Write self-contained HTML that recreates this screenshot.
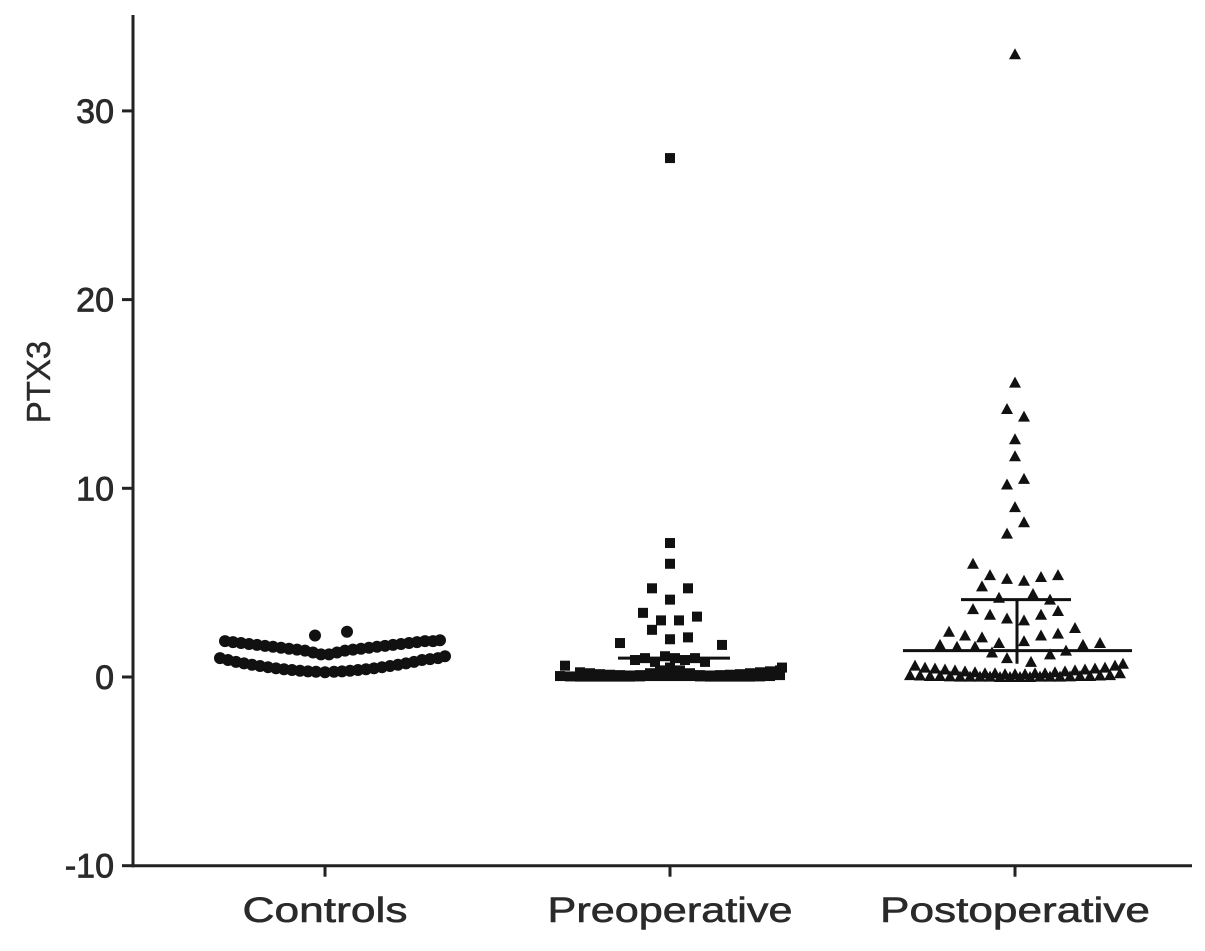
<!DOCTYPE html>
<html><head><meta charset="utf-8"><style>
html,body{margin:0;padding:0;background:#fff}
svg text{font-family:"Liberation Sans",Arial,sans-serif;fill:#2a2a2a}
</style></head><body>
<svg id="chart" width="1205" height="946" viewBox="0 0 1205 946" xmlns="http://www.w3.org/2000/svg">
<g id="axes"></g>
<g id="marks"></g>
</svg>
<script>
const categories = ["Controls","Preoperative","Postoperative"];
const yTicks = [30,20,10,0,-10];
const yLabel = "PTX3";
// jitter offsets (px from column centre) and values for each group
const ctrlOff = [-100,-92,-84,-76,-68,-60,-52,-44,-36,-28,-20,-12,-4,4,12,20,28,36,44,52,60,68,76,84,92,100,108,115,
                 -105,-97,-89,-81,-73,-65,-57,-49,-41,-33,-25,-17,-9,0,9,17,25,33,41,49,57,65,73,81,89,97,105,113,120,
                 -10,22];
const ctrlVal = [1.9,1.85,1.8,1.75,1.7,1.65,1.6,1.55,1.5,1.45,1.4,1.3,1.2,1.2,1.3,1.4,1.45,1.5,1.55,1.6,1.65,1.7,1.75,1.8,1.85,1.9,1.9,1.95,
                 1.0,0.9,0.8,0.72,0.65,0.58,0.52,0.46,0.41,0.37,0.33,0.3,0.28,0.25,0.28,0.3,0.33,0.37,0.41,0.46,0.52,0.58,0.65,0.72,0.8,0.9,0.95,1.0,1.1,
                 2.2,2.4];
const preOff = [0,0,0,-18,18,0,-27,27,-9,9,-18,18,0,-50,52,
                -90,-80,-70,-60,-50,-40,-30,-20,-10,0,10,20,30,40,50,60,70,80,90,100,110,
                -110,-100,-90,-80,-70,-60,-50,-40,-30,-20,-10,0,10,20,30,40,50,60,70,80,90,100,110,
                -35,-25,-15,-5,5,15,25,35,-105,112];
const preVal = [27.5,7.1,6.0,4.7,4.7,4.1,3.4,3.2,3.0,3.0,2.5,2.1,2.0,1.8,1.7,
                0.25,0.2,0.15,0.12,0.1,0.08,0.1,0.2,0.35,0.5,0.35,0.2,0.1,0.08,0.1,0.12,0.15,0.2,0.25,0.3,0.35,
                0.05,0.03,0.02,0.02,0.02,0.02,0.02,0.02,0.03,0.05,0.05,0.05,0.05,0.05,0.03,0.02,0.02,0.02,0.02,0.02,0.03,0.05,0.1,
                0.9,1.0,0.8,1.1,1.0,0.9,1.0,0.8,0.6,0.5];
const postOff = [0,0,-8,9,0,0,-8,9,0,9,-8,
                 -42,-25,-8,9,26,43,-33,-16,18,35,-42,-25,-8,9,26,43,
                 -66,-50,-33,-16,9,26,43,60,-75,-58,-40,-23,35,51,68,85,-8,16,
                 -100,-90,-80,-70,-60,-50,-40,-30,-20,-10,0,10,20,30,40,50,60,70,80,90,100,108,
                 -105,-95,-85,-75,-65,-55,-45,-35,-25,-15,-5,5,15,25,35,45,55,65,75,85,95,105];
const postVal = [33.0,15.6,14.2,13.8,12.6,11.7,10.2,10.5,9.0,8.2,7.6,
                 6.0,5.4,5.2,5.1,5.3,5.4,4.8,4.2,4.4,4.1,3.6,3.3,3.1,3.0,3.3,3.5,
                 2.4,2.2,2.1,1.8,1.9,2.2,2.3,2.6,1.7,1.6,1.6,1.3,1.2,1.4,1.7,1.8,1.0,0.8,
                 0.6,0.5,0.45,0.4,0.35,0.3,0.25,0.2,0.2,0.15,0.15,0.15,0.2,0.2,0.25,0.3,0.35,0.4,0.45,0.5,0.6,0.7,
                 0.1,0.08,0.05,0.05,0.03,0.02,0.02,0.02,0.02,0.0,0.0,0.0,0.0,0.02,0.02,0.02,0.03,0.05,0.05,0.08,0.1,0.2];
const preMedian = [1.0];
const postMedian = [1.4];
const postMean = [4.1];
const labelWidths = [165,245,270];

const NS="http://www.w3.org/2000/svg";
const axes=document.getElementById('axes'), marks=document.getElementById('marks');
const X0=133, X1=1192, YT=15;
function yScale(v){ return 677 - v*18.87; }
function xScale(i){ return 325 + i*345; }
function mk(tag,attrs,parent){const e=document.createElementNS(NS,tag);for(const k in attrs)e.setAttribute(k,attrs[k]);parent.appendChild(e);return e;}

let yl=mk('line',{x1:X0,y1:YT,x2:X0,y2:yScale(-10)+1.5,stroke:'#222','stroke-width':3},axes);


let xl=mk('line',{x1:X0-1.5,y1:yScale(-10),x2:X1,y2:yScale(-10),stroke:'#222','stroke-width':3},axes);


yTicks.forEach(t=>{
  const y=yScale(t);
  const tk=mk('line',{x1:X0-11,y1:y,x2:X0,y2:y,stroke:'#222','stroke-width':3},axes);
  
  
  const tx=mk('text',{x:114,y:y+12,'text-anchor':'end','font-size':34,stroke:'#2a2a2a','stroke-width':0.8},axes);
  tx.textContent=t;
  
  
});
categories.forEach((c,i)=>{
  const x=xScale(i);
  const tk=mk('line',{x1:x,y1:yScale(-10),x2:x,y2:yScale(-10)+11,stroke:'#222','stroke-width':3},axes);
  
  
  const tx=mk('text',{x:x,y:922,'text-anchor':'middle','font-size':35,textLength:labelWidths[i],lengthAdjust:'spacingAndGlyphs',stroke:'#2a2a2a','stroke-width':0.6},axes);
  tx.textContent=c;
  
  
});
const yt=mk('text',{x:0,y:0,'text-anchor':'middle','font-size':33,stroke:'#2a2a2a','stroke-width':0.4,transform:'translate(50,382) rotate(-90)'},axes);
yt.textContent=yLabel;



ctrlVal.forEach((v,k)=>{
  const c=mk('circle',{cx:xScale(0)+ctrlOff[k],cy:yScale(v),r:6,fill:'#111'},marks);
  
  
});
preVal.forEach((v,k)=>{
  const x=xScale(1)+preOff[k], y=yScale(v);
  const r=mk('rect',{x:x-5,y:y-5,width:10,height:10,fill:'#111'},marks);
  
  
});
postVal.forEach((v,k)=>{
  const x=xScale(2)+postOff[k], y=yScale(v);
  const p=mk('polygon',{points:`${x},${y-6} ${x-6},${y+5} ${x+6},${y+5}`,fill:'#111'},marks);
  
  
});
const pm=mk('line',{x1:xScale(1)-52,x2:xScale(1)+60,y1:yScale(preMedian[0]),y2:yScale(preMedian[0]),stroke:'#111','stroke-width':3},marks);


const qm=mk('line',{x1:xScale(2)-112,x2:xScale(2)+117,y1:yScale(postMedian[0]),y2:yScale(postMedian[0]),stroke:'#111','stroke-width':3},marks);


const qa=mk('line',{x1:xScale(2)-54,x2:xScale(2)+56,y1:yScale(postMean[0]),y2:yScale(postMean[0]),stroke:'#111','stroke-width':3},marks);


const qv=mk('line',{x1:xScale(2)+2,x2:xScale(2)+2,y1:yScale(postMean[0]),y2:yScale(0.7),stroke:'#111','stroke-width':3},marks);


</script>
</body></html>
